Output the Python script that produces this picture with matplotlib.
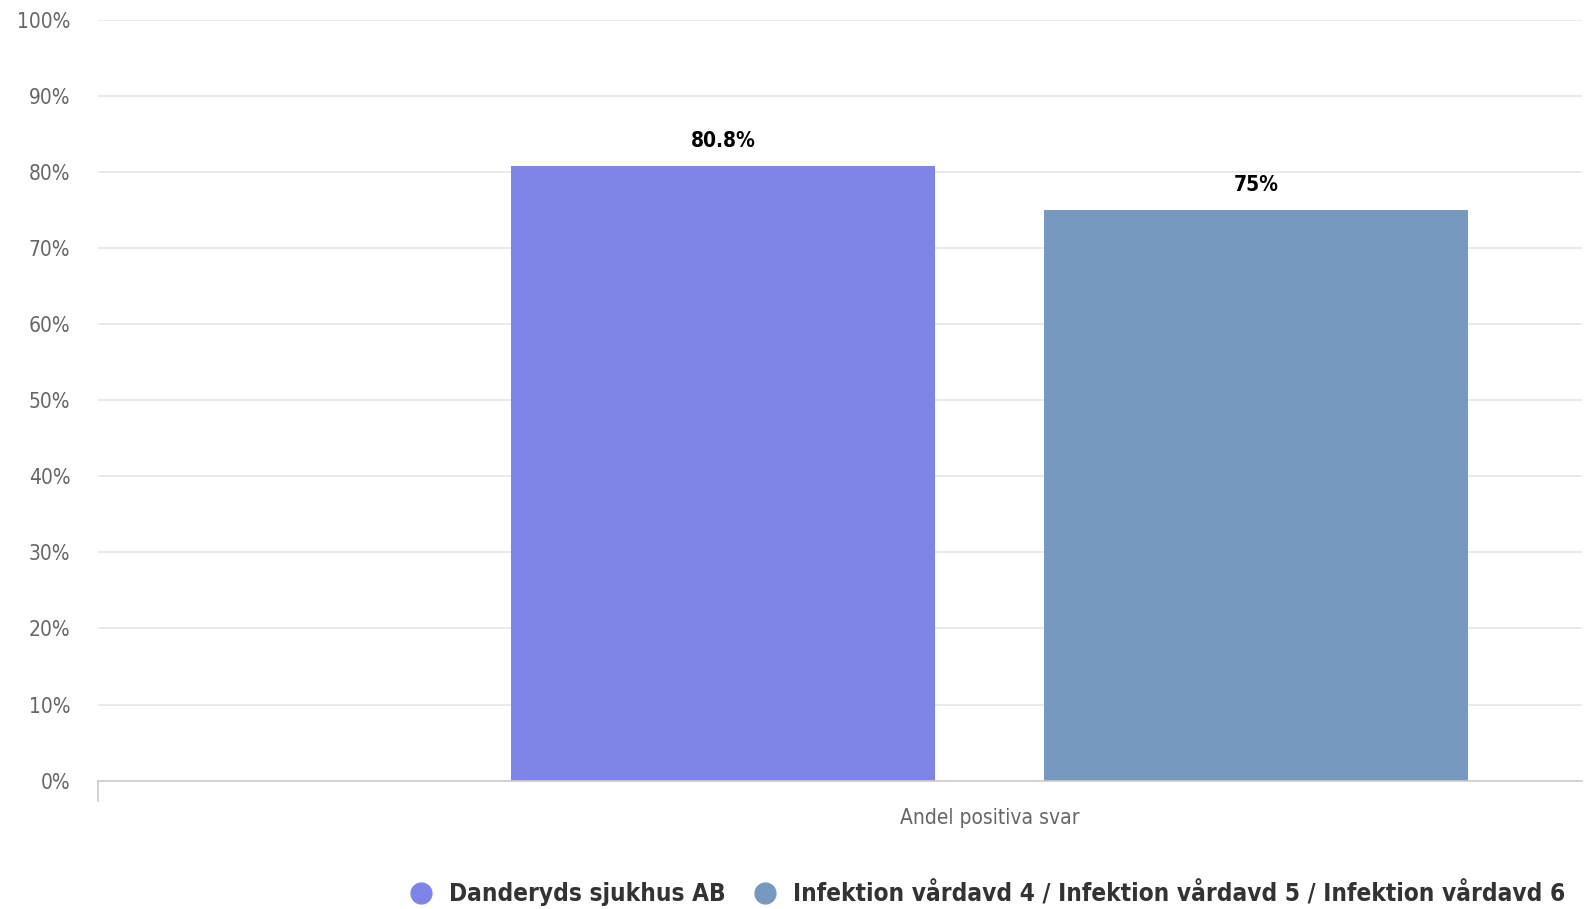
import matplotlib
matplotlib.use('Agg')
from matplotlib import pyplot
from matplotlib.lines import Line2D

series_names = ['Danderyds sjukhus AB',
                'Infektion vårdavd 4 / Infektion vårdavd 5 / Infektion vårdavd 6']
values = [80.8, 75.0]
value_labels = ['80.8%', '75%']
category = 'Andel positiva svar'
colors = ['#7f85e6', '#7799bf']
yticks = list(range(0, 101, 10))

pyplot.rcParams['font.family'] = 'DejaVu Sans'
kw = dict(fontstretch='condensed')

fig = pyplot.figure(figsize=(15.85, 9.09), dpi=100)
ax = fig.add_axes([0.0619, 0.1413, 0.9361, 0.8365])

offsets = [-0.2635, 0.2635]
width = 0.42
for off, v, lab, c in zip(offsets, values, value_labels, colors):
    ax.bar(off, v, width=width, color=c, zorder=2)
    ax.text(off, v + 2.0, lab, ha='center', va='bottom', fontsize=15,
            fontweight='bold', color='#000000', **kw)

ax.set_xlim(-0.882, 0.586)
ax.set_ylim(0, 100)
ax.set_yticks(yticks)
ax.set_yticklabels(['%d%%' % t for t in yticks], fontsize=15, color='#666666', **kw)
ax.set_xticks([])
ax.grid(axis='y', color='#e6e6e6', linewidth=1.2, zorder=0)
for s in ['top', 'right', 'left']:
    ax.spines[s].set_visible(False)
ax.spines['bottom'].set_color('#cccccc')
ax.spines['bottom'].set_linewidth(1.2)
ax.tick_params(axis='y', length=0, pad=20)
ax.plot([-0.882, -0.882], [0, -2.7], color='#cccccc', lw=1.2, clip_on=False)
ax.text(0.0, -3.6, category, ha='center', va='top', fontsize=15,
        color='#666666', transform=ax.transData, **kw)

handles = [Line2D([], [], marker='o', linestyle='none', markersize=15,
                  markerfacecolor=c, markeredgecolor=c) for c in colors]
leg = fig.legend(handles, series_names, loc='center', bbox_to_anchor=(0.619, 0.017),
                 ncol=2, frameon=False, handletextpad=0.15, columnspacing=0.6,
                 prop=dict(family='DejaVu Sans', size=17.5, weight='bold', stretch='condensed'))
for t in leg.get_texts():
    t.set_color('#333333')

pyplot.savefig('out.png')
